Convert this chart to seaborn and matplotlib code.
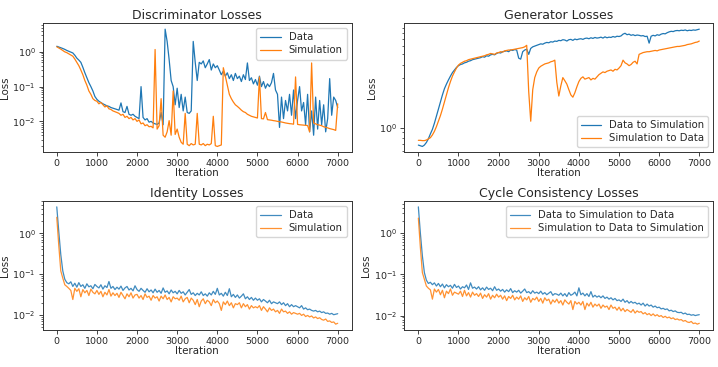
import numpy as np
import matplotlib
matplotlib.use("Agg")
import matplotlib.pyplot as plt
import seaborn as sns

# iterations shared by every series (one recorded value every 50 iterations)
iterations = np.arange(0, 7001, 50)

disc_data = [
    1.45, 1.38, 1.32, 1.25, 1.18, 1.1, 1.04, 0.98, 0.93, 0.8,
    0.66, 0.58, 0.5, 0.36, 0.25, 0.18, 0.13, 0.1, 0.075, 0.052,
    0.043, 0.038, 0.035, 0.032, 0.03, 0.028, 0.027, 0.025, 0.024, 0.023,
    0.022, 0.021, 0.034, 0.019, 0.018, 0.027, 0.016, 0.015, 0.016, 0.014,
    0.013, 0.012, 0.1, 0.013, 0.011, 0.012, 0.0095, 0.01, 0.009, 0.0085,
    0.0082, 0.009, 0.018, 0.008, 4.5, 2.0, 0.6, 0.15, 0.1, 0.03,
    0.09, 0.025, 0.06, 0.02, 0.05, 0.018, 0.017, 0.02, 2.0, 0.5,
    0.15, 0.5, 0.45, 0.55, 0.35, 0.45, 0.6, 0.3, 0.45, 0.35,
    0.4, 0.3, 0.22, 0.28, 0.2, 0.25, 0.17, 0.22, 0.15, 0.24,
    0.17, 0.2, 0.14, 0.22, 0.16, 0.48, 0.15, 0.18, 0.12, 0.16,
    0.11, 0.2, 0.1, 0.14, 0.09, 0.12, 0.1, 0.13, 0.24, 0.08,
    0.06, 0.0067, 0.05, 0.012, 0.04, 0.02, 0.06, 0.015, 0.08, 0.012,
    0.04, 0.1, 0.02, 0.035, 0.008, 0.06, 0.005, 0.02, 0.004, 0.05,
    0.006, 0.04, 0.008, 0.03, 0.005, 0.012, 0.17, 0.015, 0.05, 0.04,
    0.025,
]
disc_sim = [
    1.4, 1.3, 1.2, 1.1, 1.0, 0.95, 0.88, 0.82, 0.75, 0.62,
    0.5, 0.4, 0.3, 0.22, 0.15, 0.11, 0.075, 0.06, 0.045, 0.04,
    0.038, 0.032, 0.035, 0.03, 0.026, 0.028, 0.023, 0.022, 0.02, 0.019,
    0.018, 0.017, 0.015, 0.016, 0.013, 0.014, 0.012, 0.013, 0.011, 0.012,
    0.01, 0.011, 0.0085, 0.009, 0.0075, 0.008, 0.007, 0.0072, 0.0065, 1.17,
    0.006, 0.0075, 0.045, 0.004, 0.0035, 0.005, 0.0105, 0.004, 0.075, 0.0042,
    0.006, 0.0035, 0.0025, 0.0022, 0.017, 0.0022, 0.002, 0.0023, 0.0021, 0.0022,
    0.017, 0.0022, 0.0021, 0.0023, 0.002, 0.0022, 0.0021, 0.0023, 0.014, 0.002,
    0.0019, 0.002, 0.0021, 0.35, 0.2, 0.11, 0.06, 0.045, 0.036, 0.03,
    0.027, 0.024, 0.021, 0.019, 0.018, 0.016, 0.015, 0.014, 0.0135, 0.013,
    0.0125, 0.19, 0.012, 0.0118, 0.018, 0.0112, 0.011, 0.0108, 0.0105, 0.0103,
    0.01, 0.0098, 0.0096, 0.0093, 0.009, 0.0088, 0.0086, 0.0085, 0.0083, 0.19,
    0.0082, 0.008, 0.0079, 0.0078, 0.0077, 0.0076, 0.005, 0.48, 0.009, 0.0085,
    0.008, 0.0078, 0.0075, 0.007, 0.0068, 0.0065, 0.0062, 0.006, 0.0058, 0.0055,
    0.032,
]

gen_d2s = [
    0.68, 0.67, 0.66, 0.68, 0.72, 0.78, 0.87, 0.96, 1.1, 1.28,
    1.5, 1.75, 2.05, 2.35, 2.6, 2.85, 3.1, 3.35, 3.55, 3.75,
    3.9, 4.0, 4.05, 4.15, 4.2, 4.3, 4.35, 4.45, 4.5, 4.55,
    4.6, 4.65, 4.75, 4.7, 4.85, 4.8, 4.95, 5.0, 4.95, 5.1,
    5.2, 5.15, 5.3, 5.35, 5.4, 5.3, 5.5, 5.45, 5.55, 5.5,
    4.6, 4.5, 5.3, 5.5, 5.6, 5.0, 5.7, 5.9, 6.0, 6.1,
    6.2, 6.3, 6.25, 6.4, 6.5, 6.45, 6.6, 6.55, 6.7, 6.65,
    6.8, 6.75, 6.9, 6.85, 6.7, 6.9, 6.95, 6.8, 7.0, 6.9,
    7.0, 7.05, 6.95, 7.1, 7.15, 7.05, 7.2, 7.1, 7.25, 7.15,
    7.2, 7.3, 7.15, 7.35, 7.2, 7.3, 7.25, 7.4, 7.3, 7.45,
    7.4, 7.5, 7.8, 7.95, 7.7, 7.8, 7.6, 7.7, 7.55, 7.65,
    7.6, 7.5, 7.55, 7.4, 7.45, 6.4, 7.45, 7.6, 7.5, 7.7,
    7.6, 7.8, 7.9, 7.85, 8.05, 8.2, 8.3, 8.25, 8.4, 8.45,
    8.4, 8.5, 8.45, 8.55, 8.4, 8.5, 8.45, 8.55, 8.5, 8.6,
    8.7,
]
gen_s2d = [
    0.755, 0.755, 0.75, 0.75, 0.76, 0.78, 0.8, 0.85, 0.92, 1.02,
    1.15, 1.3, 1.5, 1.75, 2.05, 2.4, 2.75, 3.1, 3.4, 3.7,
    3.95, 4.1, 4.2, 4.3, 4.35, 4.45, 4.5, 4.55, 4.6, 4.65,
    4.7, 4.75, 4.8, 4.85, 4.95, 5.0, 5.1, 5.05, 5.0, 5.15,
    5.2, 5.3, 5.25, 5.4, 5.45, 5.5, 5.5, 5.55, 5.6, 5.65,
    5.7, 5.75, 5.8, 5.9, 6.1, 2.2, 1.15, 2.3, 3.0, 3.4,
    3.7, 3.85, 3.95, 4.05, 4.1, 4.15, 4.25, 4.3, 4.4, 2.7,
    2.0, 2.5, 3.0, 2.8, 2.6, 2.3, 2.05, 1.95, 2.15, 2.45,
    2.75, 2.95, 3.05, 2.9, 2.95, 3.0, 2.85, 2.95, 2.9, 3.05,
    3.2, 3.3, 3.4, 3.35, 3.45, 3.5, 3.55, 3.45, 3.6, 3.55,
    3.7, 3.9, 4.4, 4.15, 4.05, 3.9, 4.0, 4.2, 4.3, 4.05,
    5.0, 5.1, 5.2, 5.25, 5.3, 5.3, 5.35, 5.4, 5.45, 5.4,
    5.5, 5.55, 5.6, 5.65, 5.7, 5.75, 5.8, 5.85, 5.9, 5.95,
    5.95, 6.0, 6.05, 6.1, 6.2, 6.25, 6.3, 6.4, 6.5, 6.55,
    6.7,
]

ident_data = [
    4.4, 1.1, 0.3, 0.12, 0.075, 0.062, 0.058, 0.065, 0.05, 0.06,
    0.048, 0.062, 0.05, 0.055, 0.045, 0.058, 0.049, 0.052, 0.044, 0.056,
    0.05, 0.046, 0.055, 0.043, 0.052, 0.047, 0.066, 0.045, 0.05, 0.042,
    0.048, 0.043, 0.051, 0.04, 0.046, 0.05, 0.041, 0.045, 0.039, 0.052,
    0.042, 0.038, 0.045, 0.04, 0.036, 0.044, 0.037, 0.041, 0.035, 0.043,
    0.036, 0.04, 0.034, 0.046, 0.036, 0.039, 0.033, 0.041, 0.035, 0.038,
    0.033, 0.04, 0.034, 0.037, 0.031, 0.036, 0.042, 0.032, 0.035, 0.03,
    0.034, 0.031, 0.037, 0.03, 0.033, 0.029, 0.035, 0.031, 0.038, 0.032,
    0.045, 0.031, 0.034, 0.029, 0.036, 0.03, 0.044, 0.028, 0.032, 0.027,
    0.031, 0.026, 0.029, 0.033, 0.025, 0.028, 0.024, 0.027, 0.023, 0.026,
    0.023, 0.025, 0.021, 0.024, 0.022, 0.02, 0.023, 0.019, 0.021, 0.02,
    0.019, 0.021, 0.018, 0.02, 0.017, 0.019, 0.016, 0.018, 0.016, 0.017,
    0.016, 0.015, 0.017, 0.014, 0.015, 0.0135, 0.014, 0.013, 0.0125, 0.013,
    0.012, 0.0125, 0.0115, 0.012, 0.011, 0.0112, 0.0105, 0.011, 0.0102, 0.0105,
    0.0108,
]
ident_sim = [
    2.45, 0.5, 0.12, 0.08, 0.055, 0.05, 0.045, 0.04, 0.024, 0.045,
    0.038, 0.044, 0.028, 0.042, 0.035, 0.04, 0.03, 0.043, 0.036, 0.033,
    0.04, 0.032, 0.038, 0.028, 0.036, 0.031, 0.042, 0.029, 0.035, 0.03,
    0.034, 0.027, 0.036, 0.03, 0.025, 0.033, 0.028, 0.035, 0.026, 0.031,
    0.032, 0.026, 0.03, 0.024, 0.033, 0.027, 0.029, 0.023, 0.03, 0.026,
    0.028, 0.022, 0.029, 0.025, 0.031, 0.024, 0.027, 0.021, 0.028, 0.025,
    0.026, 0.023, 0.029, 0.021, 0.025, 0.027, 0.02, 0.026, 0.023, 0.018,
    0.024, 0.016, 0.022, 0.025, 0.019, 0.023, 0.021, 0.017, 0.024, 0.02,
    0.022, 0.019, 0.013, 0.021, 0.018, 0.022, 0.017, 0.02, 0.015, 0.019,
    0.018, 0.02, 0.015, 0.019, 0.016, 0.018, 0.014, 0.017, 0.015, 0.016,
    0.015, 0.017, 0.013, 0.016, 0.014, 0.012, 0.015, 0.013, 0.014, 0.012,
    0.013, 0.011, 0.014, 0.012, 0.0125, 0.011, 0.012, 0.0105, 0.0115, 0.011,
    0.0105, 0.011, 0.0098, 0.0105, 0.0092, 0.0098, 0.009, 0.0095, 0.0085, 0.009,
    0.0082, 0.0086, 0.0078, 0.0075, 0.008, 0.007, 0.0072, 0.0066, 0.0068, 0.006,
    0.0063,
]

cycle_data = [
    4.3, 1.0, 0.28, 0.11, 0.072, 0.06, 0.064, 0.056, 0.062, 0.052,
    0.06, 0.05, 0.058, 0.047, 0.056, 0.05, 0.054, 0.046, 0.057, 0.048,
    0.052, 0.044, 0.05, 0.047, 0.055, 0.043, 0.062, 0.046, 0.049, 0.044,
    0.05, 0.042, 0.047, 0.041, 0.049, 0.043, 0.046, 0.04, 0.05, 0.041,
    0.044, 0.039, 0.043, 0.037, 0.042, 0.038, 0.045, 0.036, 0.04, 0.037,
    0.041, 0.035, 0.039, 0.044, 0.036, 0.038, 0.034, 0.04, 0.035, 0.037,
    0.034, 0.039, 0.033, 0.036, 0.032, 0.035, 0.038, 0.031, 0.034, 0.033,
    0.031, 0.035, 0.03, 0.034, 0.029, 0.036, 0.031, 0.033, 0.037, 0.03,
    0.047, 0.032, 0.035, 0.03, 0.034, 0.029, 0.038, 0.028, 0.031, 0.028,
    0.03, 0.027, 0.03, 0.026, 0.028, 0.025, 0.027, 0.024, 0.026, 0.023,
    0.024, 0.022, 0.025, 0.021, 0.023, 0.02, 0.022, 0.02, 0.021, 0.019,
    0.02, 0.018, 0.02, 0.017, 0.019, 0.017, 0.018, 0.016, 0.017, 0.0155,
    0.016, 0.0145, 0.015, 0.014, 0.0145, 0.013, 0.0135, 0.0125, 0.013, 0.012,
    0.0118, 0.012, 0.011, 0.0115, 0.0106, 0.0108, 0.0102, 0.0105, 0.01, 0.0103,
    0.0105,
]
cycle_sim = [
    2.3, 0.45, 0.11, 0.075, 0.052, 0.046, 0.042, 0.025, 0.044, 0.037,
    0.043, 0.032, 0.041, 0.027, 0.039, 0.034, 0.044, 0.031, 0.037, 0.035,
    0.033, 0.039, 0.029, 0.041, 0.03, 0.036, 0.028, 0.037, 0.031, 0.034,
    0.029, 0.035, 0.026, 0.032, 0.028, 0.034, 0.025, 0.031, 0.027, 0.033,
    0.028, 0.031, 0.025, 0.03, 0.023, 0.029, 0.026, 0.031, 0.024, 0.028,
    0.025, 0.03, 0.022, 0.027, 0.024, 0.029, 0.021, 0.026, 0.024, 0.028,
    0.022, 0.026, 0.02, 0.027, 0.023, 0.025, 0.019, 0.024, 0.021, 0.025,
    0.02, 0.023, 0.018, 0.024, 0.021, 0.019, 0.023, 0.014, 0.022, 0.019,
    0.021, 0.018, 0.022, 0.014, 0.02, 0.017, 0.021, 0.016, 0.019, 0.017,
    0.019, 0.015, 0.018, 0.016, 0.017, 0.014, 0.018, 0.015, 0.016, 0.0135,
    0.016, 0.013, 0.015, 0.0125, 0.014, 0.013, 0.012, 0.014, 0.0115, 0.013,
    0.012, 0.0125, 0.011, 0.0118, 0.0105, 0.0112, 0.01, 0.011, 0.0098, 0.0105,
    0.0095, 0.01, 0.009, 0.0096, 0.0088, 0.0092, 0.0084, 0.0088, 0.008, 0.0083,
    0.0078, 0.008, 0.0073, 0.0076, 0.007, 0.0068, 0.0072, 0.0064, 0.0066, 0.0062,
    0.0065,
]

blue = "#1f77b4"
orange = "#ff7f0e"

sns.set_style("ticks")
plt.rcParams["font.family"] = ["DejaVu Sans"]
plt.rcParams["xtick.labelsize"] = 6.8
plt.rcParams["ytick.labelsize"] = 6.8
plt.rcParams["axes.edgecolor"] = "#333333"

fig = plt.figure(figsize=(7.18, 3.67), dpi=100)
w, h = 0.4304, 0.3515
ax_disc = fig.add_axes([0.0595, 0.585, w, h])
ax_gen = fig.add_axes([0.5631, 0.585, w, h])
ax_id = fig.add_axes([0.0595, 0.1008, w, h])
ax_cyc = fig.add_axes([0.5631, 0.1008, w, h])

panels = [
    (ax_disc, "Discriminator Losses", disc_data, disc_sim, "Data", "Simulation", "upper right", 1.0),
    (ax_gen, "Generator Losses", gen_d2s, gen_s2d, "Data to Simulation", "Simulation to Data", "lower right", 1.0),
    (ax_id, "Identity Losses", ident_data, ident_sim, "Data", "Simulation", "upper right", 0.85),
    (ax_cyc, "Cycle Consistency Losses", cycle_data, cycle_sim,
     "Data to Simulation to Data", "Simulation to Data to Simulation", "upper right", 0.85),
]

for ax, title, y1, y2, lab1, lab2, loc, alpha in panels:
    sns.lineplot(x=iterations, y=y1, ax=ax, color=blue, lw=0.9, alpha=alpha, label=lab1)
    sns.lineplot(x=iterations, y=y2, ax=ax, color=orange, lw=0.9, alpha=alpha, label=lab2)
    ax.set_yscale("log")
    ax.set_title(title, fontsize=9, pad=3)
    ax.set_xlabel("Iteration", fontsize=7.4, labelpad=0)
    ax.set_ylabel("Loss", fontsize=7.4, labelpad=2)
    ax.set_xticks(range(0, 7001, 1000))
    ax.tick_params(which="major", length=3, width=0.6, pad=2)
    ax.tick_params(which="minor", length=1.8, width=0.5)
    for sp in ax.spines.values():
        sp.set_linewidth(0.7)
    ax.legend(loc=loc, fontsize=7.3, frameon=True, handlelength=2.0,
              borderpad=0.4, labelspacing=0.3)

fig.savefig("out.png", dpi=100)
